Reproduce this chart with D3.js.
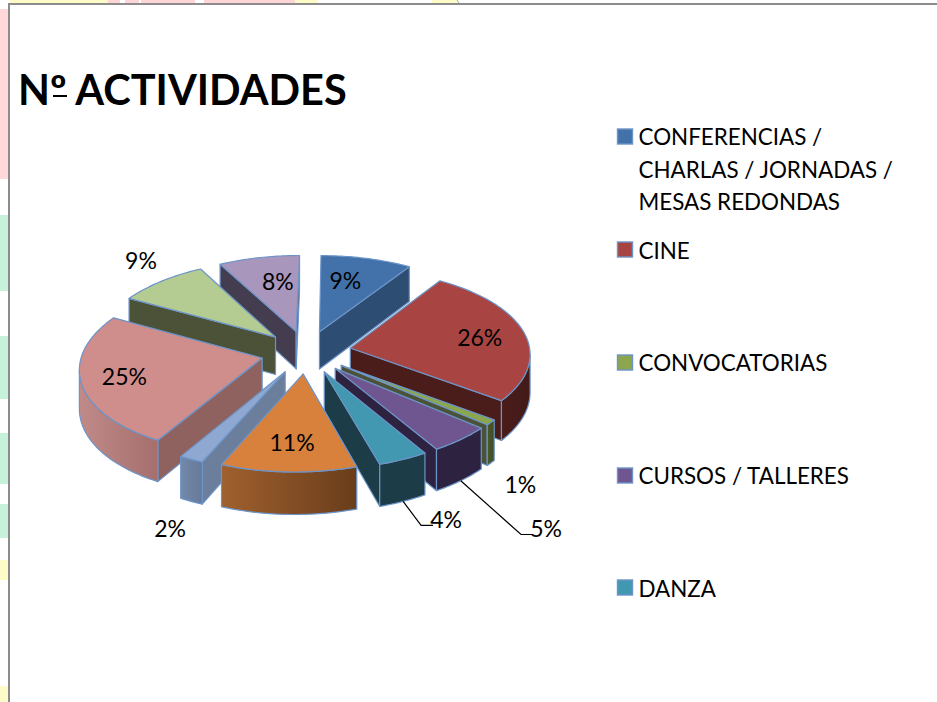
<!DOCTYPE html>
<html><head><meta charset="utf-8">
<script src="https://cdnjs.cloudflare.com/ajax/libs/d3/7.8.5/d3.min.js"></script>
<style>html,body{margin:0;padding:0;background:#fff}svg{display:block}text{font-family:Lato,sans-serif;fill:#000}</style>
</head><body><svg id="c" width="937" height="702"></svg>
<script>
// ---- data
const title = "Nº ACTIVIDADES";
const categories = ["CONFERENCIAS / CHARLAS / JORNADAS / MESAS REDONDAS","CINE","CONVOCATORIAS","CURSOS / TALLERES","DANZA","EXPOSICIONES","FERIAS","MÚSICA","TEATRO","OTROS"];
const values = [9,26,1,5,4,11,2,25,9,8];
const legendLines = [["CONFERENCIAS /","CHARLAS / JORNADAS /","MESAS REDONDAS"],["CINE"],["CONVOCATORIAS"],["CURSOS / TALLERES"],["DANZA"]];
// ---- style
const topColors  = ["#4272a9","#a84543","#8ca64e","#705690","#4198b0","#d8813c","#8fa8d1","#cf8e8c","#b4cb92","#a896bd"];
const faceColors = ["#2d4d72","#4a1c1a","#4b5238","#2d2340","#1c3d47","#6a3e1c","#6b7e9c","#8f6260","#4b5238","#443d4f"];
const wallFrom   = ["#2d4d72","#4a1c1a","#4b5a28","#2d2340","#1c3d47","#a0602e","#7488aa","#c08a88","#4b5238","#443d4f"];
const wallTo     = ["#2d4d72","#431a18","#3f4d22","#2d2340","#1c3d47","#693d1b","#66799a","#a46f6d","#4b5238","#443d4f"];
const edge = "#6c94c8";
// ---- layout: label spots in pie-plane polar terms [angle deg, radius factor]
const labelSpots = [[13.7,.73],[80.5,.79],[141,1.41],[145.4,1.71],[156.2,1.47],[182,.78],[197.8,1.476],[253.8,.813],[318.6,1.245],[348,.72]];
const leaderSlices = [3,4];
const legendSquareTops = [129,242,355,468,580];
const legendBaselines = [[145,177.5,210],[258.5],[370.5],[483.5],[596.5]];
const cx=306, cy=352, R=180, E=45, K=.477, P=.00047, SKEW_A=.0291, SKEW_B=-4.94e-5, DEPTH=38;

const svg=d3.select("#c");
// page behind the chart
const bg=[["#fdfcc9",10,0,98,4],["#ffd6d8",108,0,12,4],["#ffd6d8",125,0,14,4],["#ffd6d8",141,0,54,4],["#ffd6d8",204,0,91,4],["#fdfcc9",295,0,23,4],["#fdfcc9",432,0,26,4],
 ["#ffd9da",0,9,8,170],["#c6f2dc",0,215,8,76],["#c6f2dc",0,336,8,63],["#c6f2dc",0,433,8,51],["#c6f2dc",0,504,8,34],["#fdfcc9",0,560,8,20],["#fdfcc9",0,686,8,16]];
svg.selectAll("rect.bg").data(bg).join("rect").attr("x",d=>d[1]).attr("y",d=>d[2]).attr("width",d=>d[3]).attr("height",d=>d[4]).attr("fill",d=>d[0]);
svg.append("rect").attr("x",9).attr("y",4).attr("width",930).attr("height",700).attr("fill","#fff").attr("stroke","#8c8c8c").attr("stroke-width",2);
svg.append("line").attr("x1",457).attr("y1",0).attr("x2",459).attr("y2",3).attr("stroke","#aaa");

svg.append("text").attr("x",18).attr("y",104.5).attr("font-size",41.5).attr("font-weight",700).text(title);
svg.append("line").attr("x1",53).attr("x2",67).attr("y1",96).attr("y2",96).attr("stroke","#000").attr("stroke-width",2);

function project(u,v,d=0){const s=1/(1+P*v);return [cx+(u+SKEW_A*v+SKEW_B*v*v)*s, cy-v*K*s+d*s];}
const pie=d3.pie().sort(null).value(d=>d).startAngle(0).endAngle(2*Math.PI);
const arcs=pie(values);
const line=d3.line();
const area=pts=>d3.polygonArea(pts);
const rad=d=>d*Math.PI/180;
function rim(a,mid,d){const u=R*Math.sin(a)+E*Math.sin(mid),v=R*Math.cos(a)+E*Math.cos(mid);return project(u,v,d);}
function apex(mid,d){return project(E*Math.sin(mid),E*Math.cos(mid),d);}

const defs=svg.append("defs");
const pieG=svg.append("g");
const order=arcs.map((a,i)=>i).sort((p,q)=>Math.cos((arcs[q].startAngle+arcs[q].endAngle)/2)-Math.cos((arcs[p].startAngle+arcs[p].endAngle)/2));
order.forEach(i=>{
  const a=arcs[i], mid=(a.startAngle+a.endAngle)/2, g=pieG.append("g");
  const steps=d3.range(a.startAngle,a.endAngle,rad(1)).concat([a.endAngle]);
  const put=(pts,fill)=>g.append("path").attr("d",line(pts)+"Z").attr("fill",fill).attr("stroke",edge).attr("stroke-width",1.2).attr("stroke-linejoin","round");
  // radial cut faces
  [[a.startAngle,1],[a.endAngle,-1]].forEach(([ang,dir])=>{
    const quad=[apex(mid,0),rim(ang,mid,0),rim(ang,mid,DEPTH),apex(mid,DEPTH)];
    if(dir*area(quad)>0) put(quad,faceColors[i]);
  });
  // outer wall
  const vis=[];
  for(let k=0;k<steps.length-1;k++){
    const q=[rim(steps[k],mid,0),rim(steps[k+1],mid,0),rim(steps[k+1],mid,DEPTH),rim(steps[k],mid,DEPTH)];
    if(area(q)>0){ if(!vis.length) vis.push(steps[k]); vis.push(steps[k+1]); }
  }
  if(vis.length){
    const upper=vis.map(t=>rim(t,mid,0)), lower=vis.map(t=>rim(t,mid,DEPTH)).reverse();
    const pts=upper.concat(lower), ext=d3.extent(pts,p=>p[0]);
    const id="w"+i, gr=defs.append("linearGradient").attr("id",id).attr("gradientUnits","userSpaceOnUse").attr("x1",ext[0]).attr("x2",ext[1]).attr("y1",0).attr("y2",0);
    gr.append("stop").attr("offset",0).attr("stop-color",wallFrom[i]);
    gr.append("stop").attr("offset",1).attr("stop-color",wallTo[i]);
    put(pts,`url(#${id})`);
  }
  // top surface
  put([apex(mid,0)].concat(steps.map(t=>rim(t,mid,0))),topColors[i]);
});

// labels
const pct=d3.format(".0%"), total=d3.sum(values);
const labelPos=labelSpots.map(([ang,f])=>project((R+E)*f*Math.sin(rad(ang)),(R+E)*f*Math.cos(rad(ang))));
leaderSlices.forEach(i=>{
  const a=arcs[i],mid=(a.startAngle+a.endAngle)/2,p=rim(mid,mid,DEPTH),l=labelPos[i];
  svg.append("path").attr("d",line([p,[l[0]-25,l[1]+5],[l[0]-13,l[1]+5]])).attr("fill","none").attr("stroke","#000").attr("stroke-width",1.2);
});
svg.selectAll("text.lab").data(values).join("text").attr("class","lab").attr("text-anchor","middle")
  .attr("x",(d,i)=>labelPos[i][0]).attr("y",(d,i)=>labelPos[i][1]+8).attr("font-size",23)
  .text(d=>pct(d/total));

// legend
legendLines.forEach((ls,i)=>{
  svg.append("rect").attr("x",617.5).attr("y",legendSquareTops[i]).attr("width",15).attr("height",15).attr("fill",topColors[i]).attr("stroke",edge).attr("stroke-width",1.4);
  ls.forEach((t,j)=>svg.append("text").attr("x",638.5).attr("y",legendBaselines[i][j]).attr("font-size",22.4).text(t));
});
</script></body></html>
